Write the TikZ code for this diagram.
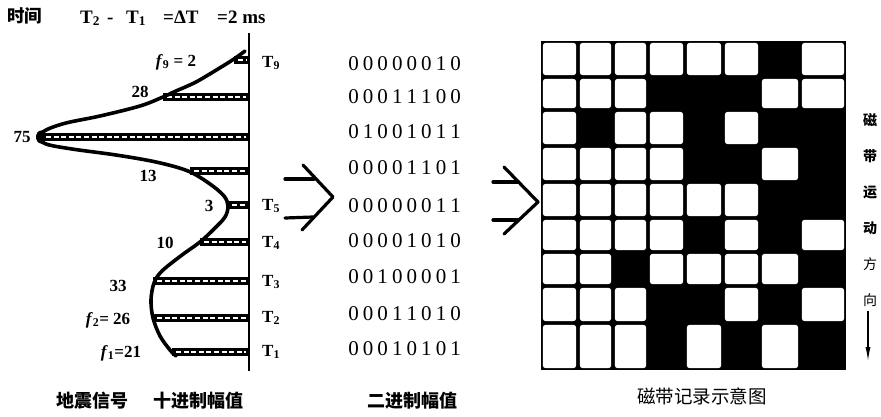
\documentclass[tikz,border=0pt]{standalone}
\usepackage{fontspec}
\setmainfont{Liberation Serif}
\newfontfamily\cjk{Noto Sans CJK SC}
\usetikzlibrary{arrows.meta}

% digits set in fixed-width cells
\def\spacebits#1{\ifx#1\relax\else\makebox[14.6pt]{#1}\expandafter\spacebits\fi}

\begin{document}
\begin{tikzpicture}[x=1pt,y=-1pt,
  num/.style={inner sep=0pt, font=\bfseries\fontsize{17}{17}\selectfont},
  tlbl/.style={inner sep=0pt, anchor=west, font=\bfseries\fontsize{17}{17}\selectfont},
  hdr/.style={inner sep=0pt, anchor=base west, font=\bfseries\fontsize{19}{19}\selectfont},
  bin/.style={inner sep=0pt, anchor=west, font=\fontsize{21}{21}\selectfont},
  cjkb/.style={inner sep=0pt, font=\cjk\bfseries\fontsize{18}{18}\selectfont},
  cjkr/.style={inner sep=0pt, font=\cjk\fontsize{18.5}{19}\selectfont},
  vert/.style={inner sep=0pt, font=\cjk\bfseries\fontsize{14}{14}\selectfont},
  vertl/.style={inner sep=0pt, font=\cjk\fontsize{14}{14}\selectfont},
  chevron/.style={line width=3.2pt, line cap=round, line join=round},
]
\useasboundingbox (0,0) rectangle (881,416);

% ---------- header ----------
\node[cjkb, font=\cjk\bfseries\fontsize{17.5}{18}\selectfont] (tlabel) at (25,16) {时间};
\node[hdr] (hA) at (80,23) {T\textsubscript{2}};
\node[hdr] (hB) at (107,23) {-};
\node[hdr] (hC) at (126,23) {T\textsubscript{1}};
\node[hdr] (hD) at (163,23) {=ΔT};
\node[hdr] (hE) at (217,23) {=2 ms};

% ---------- time axis ----------
\coordinate (axTop) at (249,33);
\coordinate (axBot) at (249,371);
\draw[line width=2pt] (axTop) -- (axBot);

% ---------- sampled amplitudes (hatched bars) ----------
\foreach \xl/\yy in {234/60, 163/97, 42/137, 190/171, 228/205, 200/242, 153/281, 153/318, 172/352}{
  \fill (\xl,\yy-4.2) rectangle (249,\yy+4.2);
  \draw[white, line width=2.6pt, dash pattern=on 5pt off 2.6pt] (\xl+4,\yy) -- (246,\yy);
}

% ---------- seismic trace ----------
\draw[line width=3.6pt, line cap=round, line join=round]
  plot[smooth, tension=0.55] coordinates {
    (245,51) (234,59) (218,69) (196,82) (176,91) (163,97) (140,106) (100,116)
    (66,123) (46,130) (39,137) (46,144) (72,149) (116,155) (156,162) (188,171)
    (210,184) (224,196) (228,206) (225,217) (214,229) (200,242) (182,255)
    (162,271) (154,283) (151,300) (153,318) (160,336) (170,350) (176,356)};
\fill (41,137) ellipse (5pt and 6.5pt);

% ---------- decimal amplitudes ----------
\node[num] (f9) at (176,62) {\textit{f}\textsubscript{9} = 2};
\node[num] (a28) at (140,92) {28};
\node[num] (a75) at (22,137) {75};
\node[num] (a13) at (148,176) {13};
\node[num] (a3) at (209,206) {3};
\node[num] (a10) at (165,243) {10};
\node[num] (a33) at (118,286) {33};
\node[num] (f2) at (108,320) {\textit{f}\textsubscript{2}= 26};
\node[num] (f1) at (121,353) {\textit{f}\textsubscript{1}=21};

% ---------- sample times ----------
\node[tlbl] (t9) at (262,63) {T\textsubscript{9}};
\node[tlbl] (t5) at (262,206) {T\textsubscript{5}};
\node[tlbl] (t4) at (262,243) {T\textsubscript{4}};
\node[tlbl] (t3) at (262,282) {T\textsubscript{3}};
\node[tlbl] (t2) at (262,318) {T\textsubscript{2}};
\node[tlbl] (t1) at (262,352) {T\textsubscript{1}};

% ---------- conversion symbols ----------
\coordinate (c1a) at (303,165); \coordinate (c1v) at (333,197); \coordinate (c1b) at (302,230);
\draw[chevron] (c1a) -- (c1v) -- (c1b);
\draw[chevron] (285,179) -- (314,179);
\draw[chevron] (285,218) -- (313,217);

\coordinate (c2a) at (504,167); \coordinate (c2v) at (538,202); \coordinate (c2b) at (504,234);
\draw[chevron] (c2a) -- (c2v) -- (c2b);
\draw[chevron] (493,182) -- (518,182);
\draw[chevron] (493,220) -- (518,220);

% ---------- binary amplitudes ----------
\node[bin] (b9) at (346,64) {\spacebits 00000010\relax};
\node[bin] (b8) at (346,97) {\spacebits 00011100\relax};
\node[bin] (b7) at (346,132) {\spacebits 01001011\relax};
\node[bin] (b6) at (346,168) {\spacebits 00001101\relax};
\node[bin] (b5) at (346,206) {\spacebits 00000011\relax};
\node[bin] (b4) at (346,241) {\spacebits 00001010\relax};
\node[bin] (b3) at (346,277) {\spacebits 00100001\relax};
\node[bin] (b2) at (346,314) {\spacebits 00011010\relax};
\node[bin] (b1) at (346,349) {\spacebits 00010101\relax};

% ---------- magnetic tape record ----------
\def\gx{{541,578,613,648,685,723,760,800,846}}
\def\gy{{41,77,110,146,182,218,252,286,323,370}}
\fill (541,41) rectangle (846,370);
\foreach \r/\bits in {0/{0,0,0,0,0,0,1,0}, 1/{0,0,0,1,1,1,0,0}, 2/{0,1,0,0,1,0,1,1},
                      3/{0,0,0,0,1,1,0,1}, 4/{0,0,0,0,0,0,1,1}, 5/{0,0,0,0,1,0,1,0},
                      6/{0,0,1,0,0,0,0,1}, 7/{0,0,0,1,1,0,1,0}, 8/{0,0,0,1,0,1,0,1}}{
  \foreach \b [count=\c from 0] in \bits {
    \ifnum\b=0
      \pgfmathsetmacro\xl{\gx[\c]}
      \pgfmathsetmacro\xr{\gx[\c+1]}
      \pgfmathsetmacro\yt{\gy[\r]}
      \pgfmathsetmacro\yb{\gy[\r+1]}
      \fill[white, rounded corners=3pt] (\xl+1.8,\yt+1.8) rectangle (\xr-1.8,\yb-1.8);
    \fi
  }
}

% tape motion direction
\node[vert] (v1) at (870,120) {磁};
\node[vert] (v2) at (870,156) {带};
\node[vert] (v3) at (870,192) {运};
\node[vert] (v4) at (870,228) {动};
\node[vertl] (v5) at (870,264) {方};
\node[vertl] (v6) at (870,300) {向};
\coordinate (dirEnd) at (868,362);
\draw[line width=1.6pt, -{Latex[length=15pt,width=5pt]}] (v6.south -| dirEnd) ++(0,4) -- (dirEnd);

% ---------- captions ----------
\node[cjkb] (cap1) at (92,401) {地震信号};
\node[cjkb] (cap2) at (198,401) {十进制幅值};
\node[cjkb] (cap3) at (412,401) {二进制幅值};
\node[cjkr] (cap4) at (702,396) {磁带记录示意图};
\end{tikzpicture}
\end{document}
